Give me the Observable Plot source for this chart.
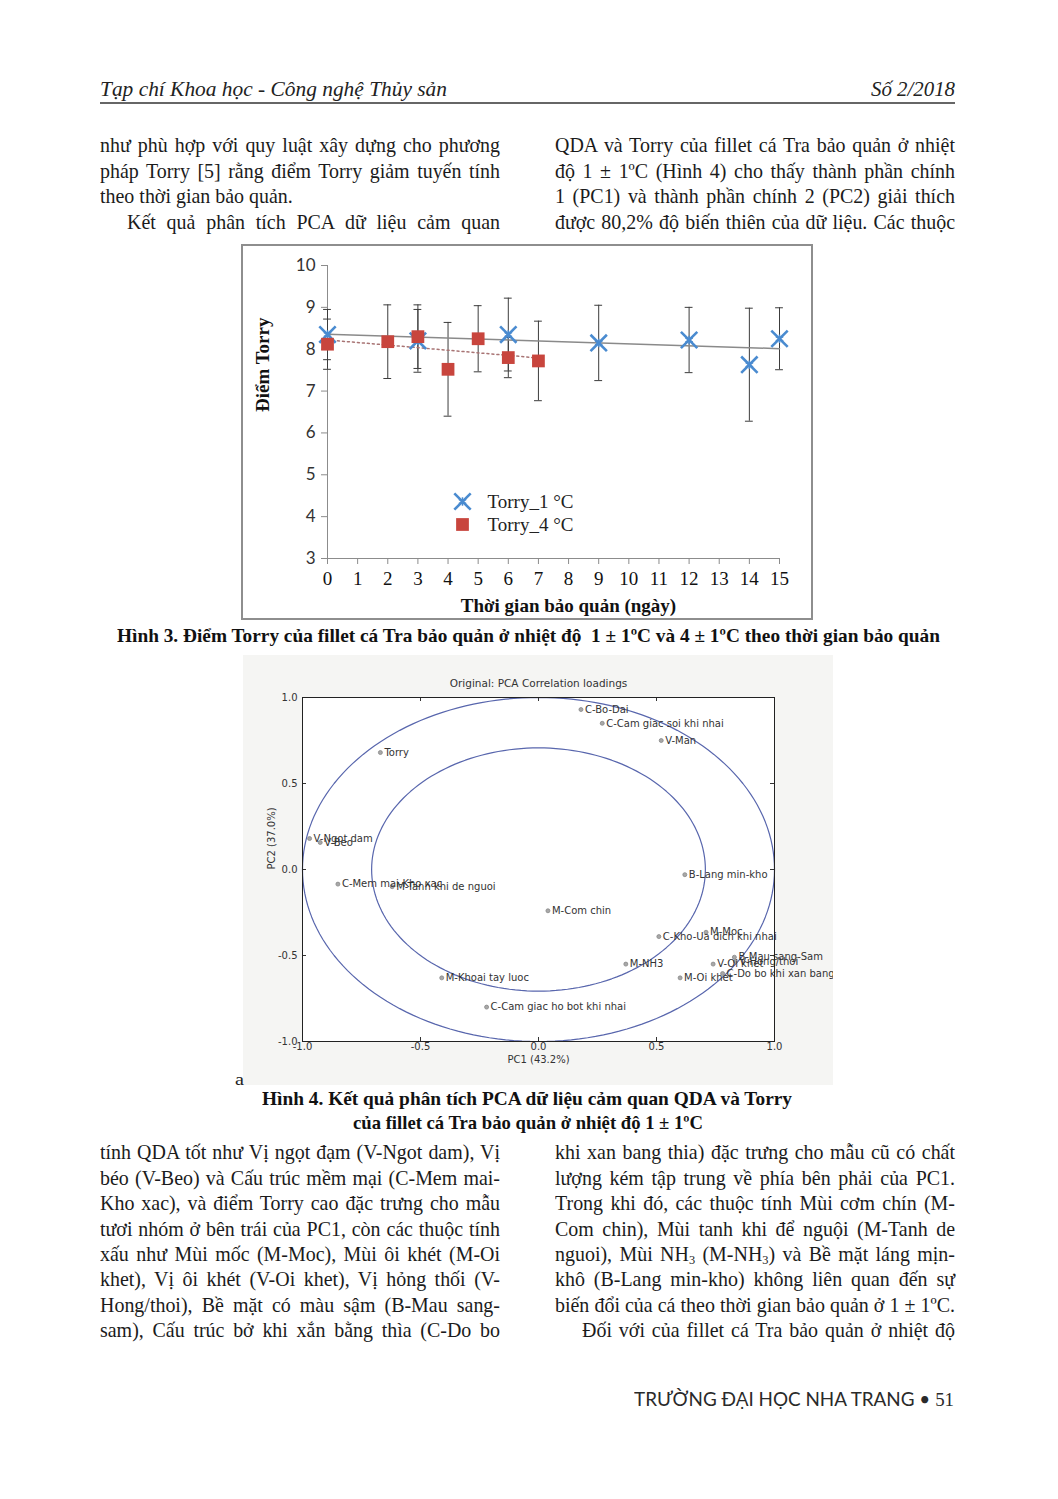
<!DOCTYPE html>
<html><head><meta charset="utf-8">
<script src="https://cdn.jsdelivr.net/npm/d3@7"></script>
<script src="https://cdn.jsdelivr.net/npm/@observablehq/plot@0.6"></script>
<style>
html,body{margin:0;padding:0;background:#fff;}
#page{position:relative;width:1058px;height:1499px;overflow:hidden;background:#fff;color:#1b1b1b;}
.ln{position:absolute;white-space:nowrap;font-family:"Liberation Serif","Times New Roman",serif;font-size:21px;line-height:25.4px;height:25.4px;transform-origin:0 50%;}
.fit{position:absolute;white-space:nowrap;transform-origin:0 50%;}
sub{font-size:0.62em;vertical-align:-0.25em;line-height:0;}
#chart1{position:absolute;left:241px;top:244px;border:2px solid #8e8e8e;width:568px;height:372px;}
#chart1 svg,#chart2 svg{display:block;}
#chart2{position:absolute;left:243px;top:655px;width:590px;height:430px;}
</style></head>
<body><div id="page">
<div id="chart1"></div>
<div id="chart2"></div>
</div>
<script>
// ---------- Chart data: Hình 3 ----------
const days1 = [0, 3, 6, 9, 12, 14, 15];
const torry1 = [8.35, 8.2, 8.35, 8.15, 8.22, 7.63, 8.25];
const sd1 = [0.6, 0.75, 0.87, 0.9, 0.78, 1.35, 0.74];
const days4 = [0, 2, 3, 4, 5, 6, 7];
const torry4 = [8.12, 8.18, 8.3, 7.52, 8.25, 7.8, 7.72];
const sd4 = [0.6, 0.88, 0.76, 1.12, 0.79, 0.48, 0.95];
const dayTicks = [0, 1, 2, 3, 4, 5, 6, 7, 8, 9, 10, 11, 12, 13, 14, 15];
const scoreTicks = [3, 4, 5, 6, 7, 8, 9, 10];
const legendLabels = ["Torry_1 °C", "Torry_4 °C"];

// ---------- Chart data: Hình 4 (PCA loadings) ----------
const attrNames = ["C-Bo-Dai", "C-Cam giac soi khi nhai", "V-Man", "Torry", "V-Ngot dam", "V-Beo",
  "C-Mem mai-Kho xac", "M-Tanh khi de nguoi", "M-Khoai tay luoc", "C-Cam giac ho bot khi nhai",
  "M-Com chin", "B-Lang min-kho", "C-Kho-Ua dich khi nhai", "M-Moc", "M-NH3", "V-Oi khet",
  "M-Oi khet", "B-Mau sang-Sam", "V-Hong/thoi", "C-Do bo khi xan bang thia"];
const pc1Loadings = [0.18, 0.27, 0.52, -0.67, -0.97, -0.925, -0.85, -0.62, -0.41, -0.22,
  0.04, 0.62, 0.51, 0.71, 0.37, 0.74, 0.60, 0.83, 0.835, 0.78];
const pc2Loadings = [0.93, 0.85, 0.75, 0.68, 0.18, 0.157, -0.085, -0.10, -0.63, -0.80,
  -0.24, -0.03, -0.39, -0.365, -0.55, -0.55, -0.63, -0.51, -0.535, -0.605];
const pcaTicks = [-1, -0.5, 0, 0.5, 1];
const circleRadii = [1, 0.7071];

// ---------- Page text ----------
const page = document.getElementById("page");
const colTop1 = [
  {t:"như phù hợp với quy luật xây dựng cho phương", j:1},
  {t:"pháp Torry [5] rằng điểm Torry giảm tuyến tính", j:1},
  {t:"theo thời gian bảo quản."},
  {t:"Kết quả phân tích PCA dữ liệu cảm quan", j:1, ind:1}];
const colTop2 = [
  {t:"QDA và Torry của fillet cá Tra bảo quản ở nhiệt", j:1},
  {t:"độ 1 ± 1ºC (Hình 4) cho thấy thành phần chính", j:1},
  {t:"1 (PC1) và thành phần chính 2 (PC2) giải thích", j:1},
  {t:"được 80,2% độ biến thiên của dữ liệu. Các thuộc", j:1}];
const colBot1 = [
  {t:"tính QDA tốt như Vị ngọt đạm (V-Ngot dam), Vị", j:1},
  {t:"béo (V-Beo) và Cấu trúc mềm mại (C-Mem mai-", j:1},
  {t:"Kho xac), và điểm Torry cao đặc trưng cho mẫu", j:1},
  {t:"tươi nhóm ở bên trái của PC1, còn các thuộc tính", j:1},
  {t:"xấu như Mùi mốc (M-Moc), Mùi ôi khét (M-Oi", j:1},
  {t:"khet), Vị ôi khét (V-Oi khet), Vị hỏng thối (V-", j:1},
  {t:"Hong/thoi), Bề mặt có màu sậm (B-Mau sang-", j:1},
  {t:"sam), Cấu trúc bở khi xắn bằng thìa (C-Do bo", j:1}];
const colBot2 = [
  {t:"khi xan bang thia) đặc trưng cho mẫu cũ có chất", j:1},
  {t:"lượng kém tập trung về phía bên phải của PC1.", j:1},
  {t:"Trong khi đó, các thuộc tính Mùi cơm chín (M-", j:1},
  {t:"Com chin), Mùi tanh khi để nguội (M-Tanh de", j:1},
  {t:"nguoi), Mùi NH<sub>3</sub> (M-NH<sub>3</sub>) và Bề mặt láng mịn-", j:1},
  {t:"khô (B-Lang min-kho) không liên quan đến sự", j:1},
  {t:"biến đổi của cá theo thời gian bảo quản ở 1 ± 1ºC.", j:1},
  {t:"Đối với của fillet cá Tra bảo quản ở nhiệt độ", j:1, ind:1}];

function layoutLines(lines, left, top, width) {
  lines.forEach((ln, i) => {
    const d = document.createElement("div");
    d.className = "ln";
    const ind = ln.ind ? 27 : 0;
    d.style.left = (left + ind) + "px";
    d.style.top = (top + i * 25.4) + "px";
    d.innerHTML = ln.t;
    page.appendChild(d);
    const avail = width - ind;
    const w = d.getBoundingClientRect().width;
    let s = 0.95;
    if (w * s > avail) s = avail / w;
    if (ln.j) {
      const n = (ln.t.replace(/<[^>]+>/g, "").match(/ /g) || []).length;
      const extra = avail / s - w;
      if (n > 0 && extra > 0) d.style.wordSpacing = (extra / n) + "px";
    }
    d.style.transform = "scaleX(" + s + ")";
  });
}
function fitText(html, css, left, centerY, width, lh) {
  const d = document.createElement("div");
  d.className = "fit";
  d.style.cssText += css;
  d.style.lineHeight = lh + "px";
  d.style.left = left + "px";
  d.style.top = (centerY - lh / 2) + "px";
  d.innerHTML = html;
  page.appendChild(d);
  const w = d.getBoundingClientRect().width;
  d.style.transform = "scaleX(" + (width / w) + ")";
  return d;
}
const SERIF = 'font-family:"Liberation Serif","Times New Roman",serif;';
fitText("Tạp chí Khoa học - Công nghệ Thủy sản", SERIF + "font-style:italic;font-size:22px;color:#222;", 100, 89, 347, 26);
fitText("Số 2/2018", SERIF + "font-style:italic;font-size:22px;color:#222;", 871, 89, 84, 26);
const rule = document.createElement("div");
rule.style.cssText = "position:absolute;left:100px;top:102px;width:855px;height:2px;background:#666;";
page.appendChild(rule);

layoutLines(colTop1, 100, 133.3, 400);
layoutLines(colTop2, 555, 133.3, 400);
layoutLines(colBot1, 100, 1140.3, 400);
layoutLines(colBot2, 555, 1140.3, 400);

fitText("Hình 3. Điểm Torry của fillet cá Tra bảo quản ở nhiệt độ&nbsp; 1 ± 1ºC và 4 ± 1ºC theo thời gian bảo quản",
  SERIF + "font-weight:bold;font-size:19px;color:#111;", 117, 636, 823, 24);
fitText("Hình 4. Kết quả phân tích PCA dữ liệu cảm quan QDA và Torry",
  SERIF + "font-weight:bold;font-size:19px;color:#111;", 262, 1099, 530, 24);
fitText("của fillet cá Tra bảo quản ở nhiệt độ 1 ± 1ºC",
  SERIF + "font-weight:bold;font-size:19px;color:#111;", 353, 1123, 350, 24);
fitText("a", SERIF + "font-size:17px;color:#222;", 235, 1080, 9, 20);
fitText('TRƯỜNG ĐẠI HỌC NHA TRANG • <span style="font-family:Liberation Serif">51</span>',
  'font-family:Lato,"Noto Sans",sans-serif;font-size:19px;color:#2a2a2a;', 634, 1399, 320, 24);

// ---------- Chart 1 ----------
const d1 = days1.map((day, i) => ({day, v: torry1[i], sd: sd1[i]}));
const d4 = days4.map((day, i) => ({day, v: torry4[i], sd: sd4[i]}));
const blue = "#4a8bd0", red = "#c8453d", errC = "#3c3c3c";
const errMarks = (data) => [
  Plot.ruleX(data, {x: "day", y1: d => d.v - d.sd, y2: d => d.v + d.sd, stroke: errC, strokeWidth: 1}),
  Plot.ruleY(data, {y: d => d.v - d.sd, x1: d => d.day - 0.13, x2: d => d.day + 0.13, stroke: errC, strokeWidth: 1}),
  Plot.ruleY(data, {y: d => d.v + d.sd, x1: d => d.day - 0.13, x2: d => d.day + 0.13, stroke: errC, strokeWidth: 1})
];
const serifF = "Liberation Serif";
const chart1 = Plot.plot({
  width: 568, height: 372,
  marginLeft: 84, marginRight: 32, marginTop: 19, marginBottom: 60,
  x: {domain: [0, 15]},
  y: {domain: [3, 10]},
  style: {background: "white", overflow: "visible"},
  marks: [
    Plot.ruleY([3], {stroke: "#8c8c8c"}),
    Plot.ruleX([0], {stroke: "#8c8c8c"}),
    Plot.axisX({ticks: dayTicks, tickSize: 6, tickPadding: 7, stroke: "#8c8c8c", fill: "#111",
      fontSize: 19, fontFamily: serifF, label: null, tickFormat: d => String(d)}),
    Plot.axisY({ticks: scoreTicks, tickSize: 6, tickPadding: 6, stroke: "#8c8c8c", fill: "#333",
      fontSize: 17, fontFamily: "Lato", label: null, tickFormat: d => String(d)}),
    ...errMarks(d1),
    ...errMarks(d4),
    Plot.linearRegressionY(d1, {x: "day", y: "v", stroke: "#8a8a8a", strokeWidth: 1.5, ci: 0}),
    Plot.linearRegressionY(d4, {x: "day", y: "v", stroke: "#a87474", strokeWidth: 1.5, strokeDasharray: "2,3", ci: 0}),
    Plot.dot(d1, {x: "day", y: "v", symbol: "times", r: 7.5, stroke: blue, strokeWidth: 2.6}),
    Plot.dot(d1, {x: "day", y: "v", symbol: "asterisk", r: 4, stroke: blue, strokeWidth: 1.5}),
    Plot.dot(d4, {x: "day", y: "v", symbol: "square", r: 7.2, fill: red}),
    Plot.dot([legendLabels[0]], {frameAnchor: "top-left", dx: 135, dy: 236, symbol: "times", r: 7.5, stroke: blue, strokeWidth: 2.6}),
    Plot.dot([legendLabels[0]], {frameAnchor: "top-left", dx: 135, dy: 236, symbol: "asterisk", r: 4, stroke: blue, strokeWidth: 1.5}),
    Plot.dot([legendLabels[1]], {frameAnchor: "top-left", dx: 135, dy: 259, symbol: "square", r: 7.2, fill: red}),
    Plot.text([legendLabels[0]], {text: d => d, frameAnchor: "top-left", dx: 160, dy: 236, textAnchor: "start", lineAnchor: "middle",
      fontFamily: serifF, fontSize: 19, fill: "#222"}),
    Plot.text([legendLabels[1]], {text: d => d, frameAnchor: "top-left", dx: 160, dy: 259, textAnchor: "start", lineAnchor: "middle",
      fontFamily: serifF, fontSize: 19, fill: "#222"}),
    Plot.text(["Điểm Torry"], {text: d => d, frameAnchor: "left", dx: -65, rotate: -90,
      fontFamily: serifF, fontSize: 19, fontWeight: "bold", fill: "#111"}),
    Plot.text(["Thời gian bảo quản (ngày)"], {text: d => d, frameAnchor: "bottom", dx: 15, dy: 47, lineAnchor: "middle",
      fontFamily: serifF, fontSize: 19, fontWeight: "bold", fill: "#111"})
  ]
});
document.getElementById("chart1").appendChild(chart1);

// ---------- Chart 2 ----------
const pts = attrNames.map((name, i) => ({name, x: pc1Loadings[i], y: pc2Loadings[i]}));
const circ = circleRadii.flatMap(r => d3.range(0, 361, 2).map(a => ({r, x: r * Math.cos(a * Math.PI / 180), y: r * Math.sin(a * Math.PI / 180)})));
const sansF = "DejaVu Sans";
const fmt = d => d.toFixed(1);
const chart2 = Plot.plot({
  width: 590, height: 430,
  marginLeft: 59, marginRight: 59, marginTop: 42, marginBottom: 44,
  x: {domain: [-1, 1]},
  y: {domain: [-1, 1]},
  style: {background: "#f5f5f3", overflow: "hidden", fontFamily: sansF},
  marks: [
    Plot.frame({fill: "white"}),
    Plot.line(circ, {x: "x", y: "y", z: "r", stroke: "#5866ad", strokeWidth: 1.2}),
    Plot.tickX(pcaTicks, {x: d => d, insetTop: 340, stroke: "#333"}),
    Plot.tickX(pcaTicks, {x: d => d, insetBottom: 340, stroke: "#333"}),
    Plot.tickY(pcaTicks, {y: d => d, insetRight: 468, stroke: "#333"}),
    Plot.tickY(pcaTicks, {y: d => d, insetLeft: 468, stroke: "#333"}),
    Plot.axisX({ticks: pcaTicks, tickSize: 0, tickPadding: 1, tickFormat: fmt, fontSize: 10, fill: "#333", fontFamily: sansF, label: null}),
    Plot.axisY({ticks: pcaTicks, tickSize: 0, tickPadding: 5, tickFormat: fmt, fontSize: 10, fill: "#333", fontFamily: sansF, label: null}),
    Plot.dot(pts, {x: "x", y: "y", r: 2, fill: "#a8a8a8", stroke: "#888", strokeWidth: 0.8}),
    Plot.text(pts, {x: "x", y: "y", text: "name", textAnchor: "start", dx: 4, fontSize: 10, fill: "#333", fontFamily: sansF}),
    Plot.text(["Original: PCA Correlation loadings"], {text: d => d, frameAnchor: "top", dy: -14, lineAnchor: "middle", fontSize: 10.5, fill: "#333", fontFamily: sansF}),
    Plot.text(["PC2 (37.0%)"], {text: d => d, frameAnchor: "left", dx: -31, rotate: -90, fontSize: 10, fill: "#333", fontFamily: sansF}),
    Plot.text(["PC1 (43.2%)"], {text: d => d, frameAnchor: "bottom", dy: 18, lineAnchor: "middle", fontSize: 10, fill: "#333", fontFamily: sansF}),
    Plot.frame({stroke: "#222"})
  ]
});
document.getElementById("chart2").appendChild(chart2);
</script>
</body></html>
